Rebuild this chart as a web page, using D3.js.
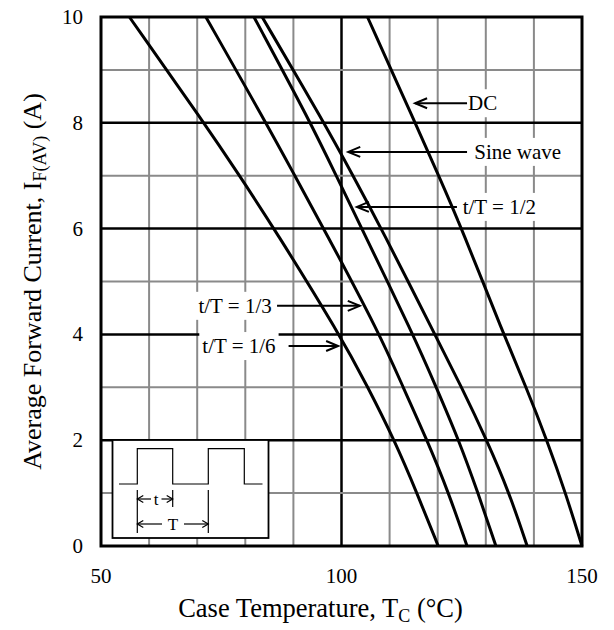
<!DOCTYPE html>
<html><head><meta charset="utf-8">
<script src="https://cdn.jsdelivr.net/npm/d3@7"></script>
<style>body{margin:0;background:#fff}svg{display:block}text{font-family:"Liberation Serif","Times New Roman",serif;fill:#000}</style>
</head><body>
<script>
// Data: case temperature (°C) at which each curve reaches the given current (A)
const currents = [10, 8, 7, 6, 4, 3, 2, 1, 0];
const seriesNames = ["t/T = 1/6", "t/T = 1/3", "t/T = 1/2", "Sine wave", "DC"];
const tempOneSixth = [55.9, 71.4, 78.8, 86.0, 99.6, 105.5, 111.0, 115.7, 120.1];
const tempOneThird = [71.8, 84.3, 90.3, 96.3, 108.0, 112.8, 117.8, 122.3, 126.1];
const tempOneHalf  = [81.8, 93.6, 98.9, 104.2, 114.9, 119.7, 124.4, 128.4, 132.1];
const tempSine     = [83.5, 96.4, 102.4, 108.3, 119.4, 125.0, 130.2, 134.9, 138.6];
const tempDC       = [105.4, 115.3, 120.2, 125.0, 133.7, 138.4, 142.7, 146.6, 150.0];
const xTicks = [50, 100, 150];
const yTicks = [0, 2, 4, 6, 8, 10];

const W = 614, H = 630;
const svg = d3.select("body").append("svg").attr("width", W).attr("height", H);
const x = d3.scaleLinear().domain([50, 150]).range([101, 582]);
const y = d3.scaleLinear().domain([0, 10]).range([546, 17]);

// grid
const g = svg.append("g");
d3.range(60, 150, 10).forEach(t => {
  g.append("line").attr("x1", x(t)).attr("x2", x(t)).attr("y1", y(0)).attr("y2", y(10))
    .attr("stroke", t === 100 ? "#000" : "#8a8a8a").attr("stroke-width", t === 100 ? 2.5 : 2);
});
d3.range(1, 10, 1).forEach(v => {
  const major = v % 2 === 0;
  g.append("line").attr("x1", x(50)).attr("x2", x(150)).attr("y1", y(v)).attr("y2", y(v))
    .attr("stroke", major ? "#000" : "#8a8a8a").attr("stroke-width", major ? 2.5 : 2);
});

// label annotations (positions in data units)
const annots = [
  {text: seriesNames[4], tip: [115.3, 8.37], tail: 126.1, side: "right", tx: 126.3},
  {text: seriesNames[3], tip: [101.4, 7.45], tail: 126.1, side: "right", tx: 127.6},
  {text: seriesNames[2], tip: [103.2, 6.41], tail: 124.0, side: "right", tx: 125.2},
  {text: seriesNames[1], tip: [103.8, 4.54], tail: 86.6, side: "left", tx: 85.5},
  {text: seriesNames[0], tip: [99.3, 3.78], tail: 89.0, side: "left", tx: 86.3}
];
const lg = svg.append("g");
annots.forEach(a => {
  const yy = y(a.tip[1]);
  const t = lg.append("text").attr("x", x(a.tx)).attr("y", yy + 7).attr("font-size", 21)
    .attr("text-anchor", a.side === "right" ? "start" : "end").text(a.text);
  const bb = t.node().getBBox();
  lg.insert("rect", "text").attr("x", bb.x - 3).attr("y", bb.y - 2).attr("width", bb.width + 6).attr("height", bb.height + 4).attr("fill", "#fff");
});

// curves
const line = d3.line().x(d => x(d[0])).y(d => y(d[1])).curve(d3.curveBasis);
const cg = svg.append("g");
[tempOneSixth, tempOneThird, tempOneHalf, tempSine, tempDC].forEach(arr => {
  cg.append("path").datum(arr.map((t, i) => [t, currents[i]])).attr("d", line)
    .attr("fill", "none").attr("stroke", "#000").attr("stroke-width", 3);
});

// arrows
annots.forEach(a => {
  const tx = x(a.tip[0]), ty = y(a.tip[1]), tl = x(a.tail);
  const dir = tl > tx ? 1 : -1;
  lg.append("line").attr("x1", tl).attr("x2", tx).attr("y1", ty).attr("y2", ty).attr("stroke", "#000").attr("stroke-width", 2);
  lg.append("path").attr("d", `M${tx + dir * 12},${ty - 5}L${tx},${ty}L${tx + dir * 12},${ty + 5}`)
    .attr("fill", "none").attr("stroke", "#000").attr("stroke-width", 2);
});
svg.node().appendChild(lg.node());

// frame
svg.append("rect").attr("x", x(50)).attr("y", y(10)).attr("width", x(150) - x(50)).attr("height", y(0) - y(10))
  .attr("fill", "none").attr("stroke", "#000").attr("stroke-width", 3);

// axes tick labels
svg.append("g").selectAll("text").data(xTicks).join("text")
  .attr("x", d => x(d)).attr("y", 583).attr("text-anchor", "middle").attr("font-size", 21).text(d => d);
svg.append("g").selectAll("text").data(yTicks).join("text")
  .attr("x", 83).attr("y", d => y(d) + 7).attr("text-anchor", "end").attr("font-size", 21).text(d => d);

// axis titles
const xt = svg.append("text").attr("x", (x(50) + x(150)) / 2 - 21).attr("y", 617).attr("text-anchor", "middle").attr("font-size", 26.5);
xt.append("tspan").text("Case Temperature, T");
xt.append("tspan").attr("font-size", 18).attr("dy", 5).text("C");
xt.append("tspan").attr("dy", -5).text(" (°C)");
const yt = svg.append("text").attr("transform", `translate(41,${(y(0) + y(10)) / 2}) rotate(-90)`).attr("text-anchor", "middle").attr("font-size", 26);
yt.append("tspan").text("Average Forward Current, I");
yt.append("tspan").attr("font-size", 18).attr("dy", 5).text("F(AV)");
yt.append("tspan").attr("dy", -5).text(" (A)");

// inset
const ins = svg.append("g");
ins.append("rect").attr("x", 112.5).attr("y", 440).attr("width", 156).attr("height", 98).attr("fill", "#fff").attr("stroke", "#000").attr("stroke-width", 1.8);
ins.append("path").attr("d", "M119,484H137.3V448.7H172.7V484H208.3V448.7H244.3V484H262.5").attr("fill", "none").attr("stroke", "#000").attr("stroke-width", 1.2);
[[137.3, 533], [172.7, 507], [208.3, 533]].forEach(([xx, yb]) => {
  ins.append("line").attr("x1", xx).attr("x2", xx).attr("y1", 490).attr("y2", yb).attr("stroke", "#000").attr("stroke-width", 1.2);
});
function smallArrow(x1, x2, yy) {
  const dir = x2 > x1 ? 1 : -1;
  ins.append("line").attr("x1", x1).attr("x2", x2).attr("y1", yy).attr("y2", yy).attr("stroke", "#000").attr("stroke-width", 1.2);
  ins.append("path").attr("d", `M${x2 - dir * 6},${yy - 3.5}L${x2},${yy}L${x2 - dir * 6},${yy + 3.5}`).attr("fill", "none").attr("stroke", "#000").attr("stroke-width", 1.2);
}
smallArrow(151, 137.3, 499);
smallArrow(161.5, 172.7, 499);
ins.append("text").attr("x", 156).attr("y", 505).attr("text-anchor", "middle").attr("font-size", 17).text("t");
smallArrow(162, 137.3, 524);
smallArrow(184, 208.3, 524);
ins.append("text").attr("x", 173).attr("y", 530).attr("text-anchor", "middle").attr("font-size", 17).text("T");
</script>
</body></html>
